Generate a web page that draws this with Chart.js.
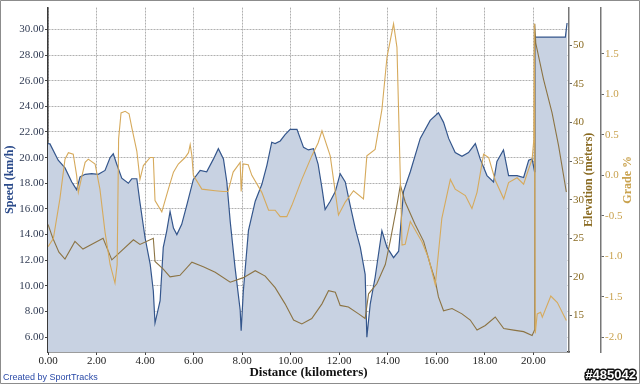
<!DOCTYPE html>
<html>
<head>
<meta charset="utf-8">
<script src="https://cdn.jsdelivr.net/npm/chart.js@4/dist/chart.umd.min.js"></script>
<style>
  html, body { margin: 0; padding: 0; background: #fff; }
  canvas { display: block; }
</style>
</head>
<body>
<canvas id="trackChart" width="640" height="384"></canvas>
<script>
// distance in km for each sample of each series
const speedKm = [0, 0.08, 0.42, 0.70, 0.98, 1.18, 1.32, 1.53, 1.80, 2.07, 2.35, 2.56, 2.69, 2.83, 3.04, 3.31, 3.45, 3.66, 3.79, 4.0,
  4.21, 4.34, 4.41, 4.62, 4.75, 4.89, 5.03, 5.17, 5.31, 5.51, 5.72, 5.99, 6.27, 6.54, 6.82, 7.02, 7.23, 7.37, 7.51, 7.71,
  7.92, 7.96, 8.05, 8.26, 8.54, 8.81, 9.02, 9.22, 9.36, 9.57, 9.77, 9.98, 10.26, 10.53, 10.73, 10.94, 11.13, 11.3, 11.42, 11.63,
  11.84, 12.04, 12.25, 12.45, 12.66, 12.87, 13.07, 13.14, 13.28, 13.48, 13.76, 13.97, 14.24, 14.45, 14.65, 14.93, 15.34, 15.75, 16.09, 16.30,
  16.51, 16.78, 17.06, 17.33, 17.61, 17.81, 18.09, 18.36, 18.50, 18.77, 18.98, 19.33, 19.60, 19.81, 19.95, 20.05, 20.06, 21.32, 21.39];
const speedKmh = [21.1, 21.07, 19.8, 19.2, 18.1, 17.5, 18.5, 18.7, 18.75, 18.7, 19.0, 20.0, 20.3, 19.5, 18.4, 18.0, 18.35, 18.35, 16.5, 13.75,
  11.7, 9.6, 7.1, 8.85, 13.0, 14.25, 15.8, 14.5, 14.0, 14.8, 16.3, 18.3, 19.0, 18.9, 19.9, 20.7, 19.9, 18.1, 15.0, 11.4,
  8.1, 6.5, 9.6, 14.3, 16.6, 17.9, 19.4, 21.2, 21.1, 21.3, 21.8, 22.2, 22.2, 20.8, 20.6, 20.7, 19.5, 17.5, 15.95, 16.6,
  17.35, 18.75, 18.1, 16.3, 14.5, 13.0, 10.9, 6.0, 8.6, 10.65, 14.3, 13.0, 12.2, 12.7, 17.35, 18.9, 21.5, 22.9, 23.5, 22.75,
  21.5, 20.4, 20.1, 20.4, 21.1, 19.9, 18.6, 18.1, 19.7, 20.6, 18.6, 18.6, 18.45, 19.8, 19.9, 18.9, 29.4, 29.4, 30.5];

const elevKm = [0, 0.2, 0.45, 0.70, 1.11, 1.44, 2.27, 2.63, 3.52, 3.79, 4.34, 4.41, 4.75, 5.03, 5.44, 5.93, 6.40, 6.89, 7.51, 8.05,
  8.54, 8.95, 9.36, 9.77, 10.12, 10.46, 10.87, 11.29, 11.56, 11.84, 12.04, 12.38, 12.80, 13.07, 13.21, 13.55, 13.90, 14.10, 14.38, 14.52,
  14.72, 15.13, 15.48, 15.75, 15.96, 16.09, 16.30, 16.65, 17.06, 17.40, 17.68, 18.02, 18.43, 18.78, 19.19, 19.60, 19.95, 20.05, 20.06, 20.10,
  20.42, 20.77, 21.04, 21.36];
const elevM = [26.8, 25.0, 23.2, 22.3, 24.6, 23.6, 25.0, 22.2, 24.8, 24.2, 25.0, 22.0, 21.0, 20.0, 20.2, 21.9, 21.3, 20.6, 19.3, 19.9,
  20.8, 20.1, 18.6, 16.5, 14.4, 13.9, 14.6, 16.5, 18.2, 18.0, 16.3, 16.1, 15.2, 14.6, 17.8, 19.1, 21.6, 24.6, 29.3, 31.9,
  29.7, 26.8, 24.6, 21.6, 19.5, 17.4, 15.6, 15.9, 15.2, 14.4, 13.1, 13.7, 14.8, 13.3, 13.1, 12.9, 12.4, 13.1, 52.8, 50.3,
  45.6, 41.3, 37.0, 31.0];

const gradeKm = [0, 0.22, 0.49, 0.70, 0.84, 1.04, 1.18, 1.25, 1.39, 1.53, 1.66, 1.94, 2.14, 2.35, 2.56, 2.76, 2.85, 2.91, 3.01, 3.18,
  3.34, 3.46, 3.66, 3.79, 3.93, 4.21, 4.34, 4.41, 4.69, 4.96, 5.17, 5.37, 5.65, 5.79, 5.86, 5.93, 5.99, 6.34, 6.89, 7.22,
  7.42, 7.63, 7.92, 7.96, 8.04, 8.25, 8.40, 8.81, 9.09, 9.36, 9.57, 9.84, 10.05, 10.46, 10.87, 11.13, 11.29, 11.63, 11.97, 12.25,
  12.59, 13.00, 13.14, 13.48, 13.76, 13.97, 14.24, 14.38, 14.59, 14.72, 14.93, 15.41, 15.68, 15.96, 16.23, 16.58, 16.78, 17.20, 17.47, 17.68,
  17.95, 18.16, 18.43, 18.78, 18.98, 19.33, 19.60, 19.81, 19.95, 20.02, 20.04, 20.08, 20.16, 20.30, 20.37, 20.72, 20.99, 21.36];
const gradePct = [-0.88, -0.78, -0.29, 0.20, 0.28, 0.26, 0.0, -0.21, -0.02, 0.16, 0.20, 0.14, -0.17, -0.70, -1.10, -1.33, -1.1, 0.45, 0.77, 0.79,
  0.76, 0.58, 0.30, -0.05, 0.12, 0.22, 0.22, -0.31, -0.45, -0.17, 0.04, 0.14, 0.22, 0.28, 0.38, 0.24, 0.0, -0.17, -0.19, -0.2,
  -0.2, 0.04, 0.16, -0.2, 0.14, 0.13, 0.0, -0.21, -0.43, -0.43, -0.51, -0.51, -0.37, -0.05, 0.24, 0.40, 0.55, 0.24, -0.49, -0.33,
  -0.19, -0.29, 0.24, 0.32, 0.81, 1.46, 1.87, 1.58, -0.86, -0.85, -0.57, -0.82, -1.02, -1.35, -0.53, -0.05, -0.17, -0.25, -0.41, -0.21,
  0.26, 0.22, -0.06, -0.29, -0.09, -0.03, -0.11, 0.08, 0.20, 0.44, 1.87, -1.95, -1.71, -1.69, -1.75, -1.49, -1.57, -1.79];

// tick labels
const distTicks = [0, 2, 4, 6, 8, 10, 12, 14, 16, 18, 20];
const speedTicks = [6, 8, 10, 12, 14, 16, 18, 20, 22, 24, 26, 28, 30];
const elevTicks = [15, 20, 25, 30, 35, 40, 45, 50];
const gradeTicks = [-2.0, -1.5, -1.0, -0.5, 0.0, 0.5, 1.0, 1.5];

const toPoints = (xs, ys) => xs.map((x, i) => ({ x: x, y: ys[i] }));
const serif = '"Liberation Serif", "DejaVu Serif", serif';

const fixWidth = w => scale => { scale.width = w; };
const setTicks = arr => scale => { scale.ticks = arr.map(v => ({ value: v })); };

// right-hand axis titles, footer texts and frame
const extras = {
  id: 'extras',
  afterDraw(chart) {
    const ctx = chart.ctx;
    const a = chart.chartArea;
    const midY = (a.top + a.bottom) / 2;
    ctx.save();
    ctx.font = 'bold 12px ' + serif;
    ctx.textAlign = 'center';
    ctx.textBaseline = 'middle';
    ctx.fillStyle = '#8a6b22';
    ctx.save(); ctx.translate(589, midY); ctx.rotate(-Math.PI / 2); ctx.fillText('Elevation (meters)', 0, 0); ctx.restore();
    ctx.fillStyle = '#c9a24e';
    ctx.save(); ctx.translate(628, midY); ctx.rotate(-Math.PI / 2); ctx.fillText('Grade %', 0, 0); ctx.restore();

    ctx.textAlign = 'left';
    ctx.font = '9px "Liberation Sans", Arial, sans-serif';
    ctx.fillStyle = '#2a4aa8';
    ctx.fillText('Created by SportTracks', 3, 378);

    ctx.textAlign = 'right';
    ctx.font = 'bold 13px "Liberation Sans", Arial, sans-serif';
    ctx.lineJoin = 'round';
    ctx.lineWidth = 3;
    ctx.strokeStyle = '#111';
    ctx.strokeText('#485042', 636, 375);
    ctx.fillStyle = '#fff';
    ctx.fillText('#485042', 636, 375);

    ctx.strokeStyle = '#8c8c8c';
    ctx.lineWidth = 1;
    ctx.strokeRect(0.5, 0.5, 639, 383);
    ctx.restore();
  }
};

new Chart(document.getElementById('trackChart'), {
  type: 'line',
  data: {
    datasets: [
      {
        label: 'Speed',
        data: toPoints(speedKm, speedKmh),
        yAxisID: 'y',
        borderColor: '#34568c',
        backgroundColor: '#c8d2e2',
        borderWidth: 1.2,
        fill: 'start',
        pointRadius: 0,
        tension: 0,
        order: 3
      },
      {
        label: 'Elevation',
        data: toPoints(elevKm, elevM),
        yAxisID: 'yElev',
        borderColor: '#8c7444',
        borderWidth: 1.1,
        fill: false,
        pointRadius: 0,
        tension: 0,
        order: 2
      },
      {
        label: 'Grade',
        data: toPoints(gradeKm, gradePct),
        yAxisID: 'yGrade',
        borderColor: '#d6aa5c',
        borderWidth: 1.1,
        fill: false,
        pointRadius: 0,
        tension: 0,
        order: 1
      }
    ]
  },
  options: {
    responsive: false,
    animation: false,
    layout: { padding: { top: 4, left: 0, right: 0, bottom: 0 } },
    plugins: { legend: { display: false }, tooltip: { enabled: false } },
    scales: {
      x: {
        type: 'linear',
        min: 0,
        max: 21.47,
        afterBuildTicks: setTicks(distTicks),
        afterFit: scale => { scale.height = 32; },
        ticks: { color: '#222', padding: 0, font: { family: serif, size: 11 }, callback: v => v.toFixed(2) },
        grid: { color: '#b0b0b0', tickColor: '#444', tickLength: 3, tickBorderDash: [] },
        border: { color: '#3a3a3a', width: 1.5, dash: [2, 1] },
        title: { display: true, text: 'Distance (kilometers)', color: '#111', padding: { top: 0, bottom: 4 }, font: { family: serif, size: 13, weight: 'bold' } }
      },
      y: {
        position: 'left',
        min: 4.84,
        max: 31.7,
        afterBuildTicks: setTicks(speedTicks),
        afterFit: fixWidth(48),
        ticks: { color: '#2f3a52', padding: 1, font: { family: serif, size: 11 }, callback: v => v.toFixed(2) },
        grid: { color: '#b0b0b0', tickColor: '#444', tickLength: 3, tickBorderDash: [] },
        border: { color: '#3a3a3a', width: 1.5, dash: [2, 1] },
        title: { display: true, text: 'Speed (km/h)', color: '#2a4a8a', padding: { top: 3, bottom: 0 }, font: { family: serif, size: 12, weight: 'bold' } }
      },
      yElev: {
        position: 'right',
        min: 10.26,
        max: 54.9,
        afterBuildTicks: setTicks(elevTicks),
        afterFit: fixWidth(32),
        ticks: { color: '#8a6b22', padding: 1, font: { family: serif, size: 11 } },
        grid: { drawOnChartArea: false, tickColor: '#666', tickLength: 3, tickBorderDash: [] },
        border: { color: '#777', width: 1.5 }
      },
      yGrade: {
        position: 'right',
        min: -2.18,
        max: 2.07,
        afterBuildTicks: setTicks(gradeTicks),
        afterFit: fixWidth(39),
        ticks: { color: '#c9a24e', padding: 1, font: { family: serif, size: 11 }, callback: v => v.toFixed(1) },
        grid: { drawOnChartArea: false, tickColor: '#666', tickLength: 3, tickBorderDash: [] },
        border: { color: '#777', width: 1.5 }
      }
    }
  },
  plugins: [extras]
});
</script>
</body>
</html>
